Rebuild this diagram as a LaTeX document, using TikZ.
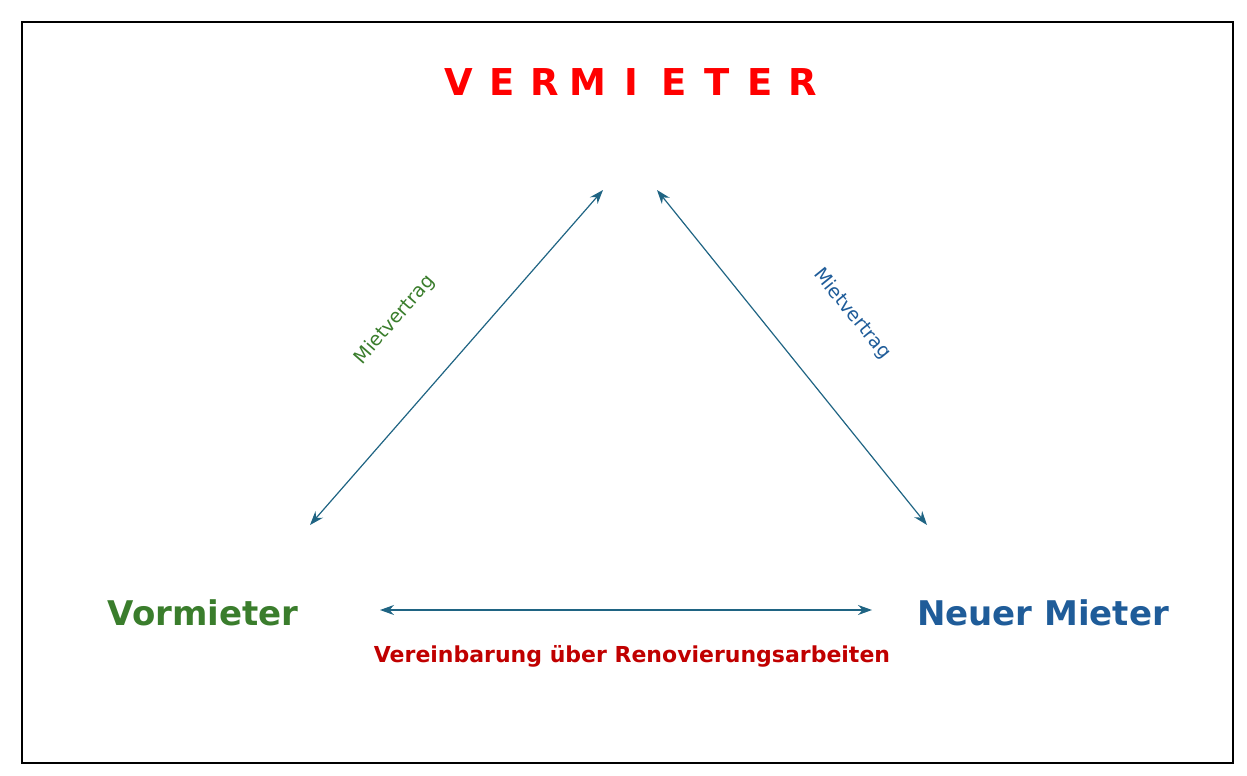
\documentclass[tikz,border=0pt]{standalone}
\usepackage{fontspec}
\setmainfont{DejaVu Sans}
\usetikzlibrary{arrows.meta}
\definecolor{arr}{HTML}{1F6483}
\definecolor{vgreen}{HTML}{3A7D2C}
\definecolor{nblue}{HTML}{1F5C99}
\definecolor{dred}{HTML}{C00000}
\tikzset{conn/.style={arr,line width=1.2pt,{Stealth[length=14pt,width=10pt]}-{Stealth[length=14pt,width=10pt]}},
 party/.style={font=\fontsize{34}{38}\selectfont\bfseries},
 lab/.style={font=\fontsize{19}{22}\selectfont}}
\begin{document}
\begin{tikzpicture}[x=1pt,y=-1pt]
\useasboundingbox (0,0) rectangle (1247,776);
\draw[line width=1.5pt] (22,22) rectangle (1233,763);
\foreach \l [count=\i from 0] in {V,E,R,M,I,E,T,E,R}
  \node[red,font=\fontsize{37}{40}\selectfont\bfseries] (v\i) at (459+\i*43,82) {\l};
\coordinate (top1) at (603,190);
\coordinate (top2) at (657,190);
\coordinate (bl) at (310,525);
\coordinate (br) at (927,525);
\coordinate (ml) at (380,610);
\coordinate (mr) at (872,610);
\node[party,vgreen] (vm) at (203,613) {Vormieter};
\node[party,nblue] (nm) at (1043,613) {Neuer Mieter};
\node[dred,font=\fontsize{22}{26}\selectfont\bfseries] (ver) at (632,656) {Vereinbarung über Renovierungsarbeiten};
\draw[conn] (bl) -- (top1);
\draw[conn] (top2) -- (br);
\draw[conn] (ml) -- (mr);
\node[lab,vgreen,rotate=48.8] (m1) at (395,320) {Mietvertrag};
\node[lab,nblue,rotate=-51] (m2) at (852,314) {Mietvertrag};
\end{tikzpicture}
\end{document}
